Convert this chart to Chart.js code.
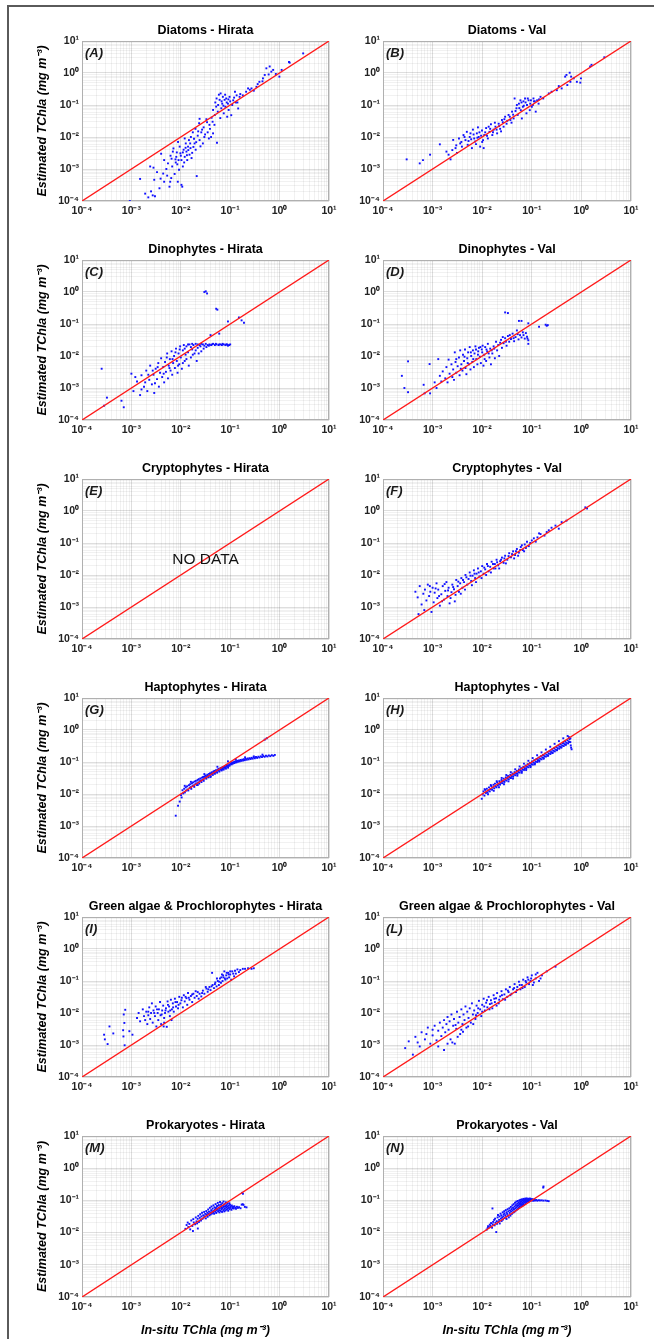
<!DOCTYPE html>
<html><head><meta charset="utf-8">
<script src="https://cdn.jsdelivr.net/npm/chart.js@4/dist/chart.umd.min.js"></script>
<style>
html,body{margin:0;padding:0;background:#fff;}
body{width:654px;height:1339px;position:relative;overflow:hidden;font-family:"Liberation Sans",Arial,sans-serif;}
#frame{position:absolute;left:7px;top:5px;width:700px;height:1400px;border-top:2px solid #5a5a5a;border-left:2px solid #5a5a5a;}
canvas{position:absolute;}
</style></head><body>
<div id="frame"></div>
<script>
// ---- axis ticks ----
const decades = [1e-4, 1e-3, 1e-2, 1e-1, 1, 10];
const decadeLabels = ['10⁻⁴', '10⁻³', '10⁻²', '10⁻¹', '10⁰', '10¹'];
const minorSteps = [2, 3, 4, 5, 6, 7, 8, 9];
const oneToOne = [[1e-4, 1e-4], [10, 10]];

// ---- panel titles / letters ----
const panelTitles = ['Diatoms - Hirata', 'Diatoms - Val', 'Dinophytes - Hirata', 'Dinophytes - Val',
  'Cryptophytes - Hirata', 'Cryptophytes - Val', 'Haptophytes - Hirata', 'Haptophytes - Val',
  'Green algae & Prochlorophytes - Hirata', 'Green algae & Prochlorophytes - Val',
  'Prokaryotes - Hirata', 'Prokaryotes - Val'];
const panelLetters = ['(A)', '(B)', '(C)', '(D)', '(E)', '(F)', '(G)', '(H)', '(I)', '(L)', '(M)', '(N)'];

// ---- data: [in-situ, estimated] (mg m-3) ----
const diatomsHirata = [[9.3e-4,1.0e-4],[1.5e-3,4.9e-4],[1.9e-3,1.7e-4],[2.2e-3,1.3e-4],[2.5e-3,2.0e-4],[2.7e-3,1.5e-4],[2.8e-3,1.1e-3],[2.9e-3,4.6e-4],[3.0e-3,1.4e-4],[3.7e-3,2.5e-4],[3.9e-3,5e-4],[4.4e-3,7.2e-4],[4.6e-3,4.0e-4],[5.1e-3,1.0e-3],[5.5e-3,1.5e-3],[5.9e-3,2.8e-4],[6.1e-3,4e-4],[6.5e-3,2.1e-3],[6.7e-3,1.2e-3],[6.9e-3,3.5e-3],[7.5e-3,7e-4],[7.9e-3,1.6e-3],[8.1e-3,2.4e-3],[8.5e-3,1.4e-3],[8.7e-3,4e-4],[9.2e-3,9.5e-4],[9.5e-3,5e-3],[9.8e-3,3.1e-3],[1.03e-2,1.9e-3],[1.03e-2,3.2e-4],[1.07e-2,2.8e-4],[1.1e-2,1.2e-3],[1.14e-2,4e-3],[1.2e-2,2.4e-3],[1.26e-2,6.3e-3],[1.3e-2,3.5e-3],[1.35e-2,1.9e-3],[1.4e-2,5e-3],[1.46e-2,8e-3],[1.5e-2,2.8e-3],[1.57e-2,4.5e-3],[1.6e-2,1e-2],[1.7e-2,3.2e-3],[1.75e-2,1.4e-2],[1.9e-2,6.3e-3],[1.98e-2,1.8e-2],[2.0e-2,4e-3],[2.1e-2,6e-4],[2.2e-2,1.1e-2],[2.35e-2,2.7e-2],[2.4e-2,8e-3],[2.4e-2,3.7e-2],[2.6e-2,1.4e-2],[2.8e-2,6.3e-3],[2.9e-2,2e-2],[3.0e-2,1e-2],[3.3e-2,3.6e-2],[3.5e-2,1.4e-2],[3.7e-2,9e-3],[3.8e-2,2.4e-2],[4.1e-2,1e-2],[4.4e-2,3e-2],[4.5e-2,1.3e-2],[4.5e-2,7e-2],[4.9e-2,4.9e-2],[5.2e-2,8.9e-2],[5.4e-2,6.6e-3],[5.6e-2,6.2e-2],[5.9e-2,0.21],[6.1e-2,0.145],[6.3e-2,3.9e-2],[6.6e-2,7.9e-2],[6.9e-2,0.11],[7.1e-2,0.18],[7.4e-2,5.5e-2],[7.7e-2,0.145],[8.0e-2,8.8e-2],[8.3e-2,0.16],[8.7e-2,4.3e-2],[9.0e-2,0.11],[9.3e-2,7e-2],[9.7e-2,0.18],[0.105,4.8e-2],[0.11,0.1],[0.115,0.14],[0.125,0.26],[0.13,0.12],[0.135,0.2],[0.145,7.8e-2],[0.155,0.18],[0.21,0.26],[0.23,0.33],[0.27,0.33],[0.3,0.28],[0.34,0.37],[0.39,0.53],[0.46,0.68],[0.5,0.87],[0.54,1.4],[0.63,1.6],[0.68,1.1],[0.74,1.25],[0.84,0.93],[0.99,0.77],[1.1,1.25],[1.55,2.2],[1.6,2.1],[3.0,4.1],
[6.2e-3,2.6e-3],[7.1e-3,4.4e-3],[8.3e-3,3.3e-3],[9.0e-3,1.9e-3],[1.0e-2,2.6e-3],[1.1e-2,3.3e-3],[1.17e-2,1.6e-3],[1.25e-2,4.6e-3],[1.33e-2,2.7e-3],[1.42e-2,3.9e-3],[1.55e-2,6.3e-3],[1.65e-2,2.2e-3],[1.8e-2,4.9e-3],[1.85e-2,8.8e-3],[2.05e-2,6.9e-3],[2.25e-2,1.5e-2],[2.5e-2,5.1e-3],[2.7e-2,1.7e-2],[3.1e-2,1.2e-2],[3.4e-2,2.9e-2],[3.9e-2,1.8e-2],[4.2e-2,4.0e-2],[4.8e-2,2.4e-2],[5.0e-2,0.12],[5.3e-2,0.16],[5.7e-2,0.1],[6.4e-2,0.23],[6.7e-2,0.13],[7.3e-2,9.5e-2],[7.9e-2,0.21],[8.5e-2,0.12],[9.2e-2,0.15],[0.1,0.13],[0.12,0.17],[0.14,0.12],[0.16,0.22],[0.18,0.2],[4.6e-3,1.9e-3],[5.3e-3,6.2e-4],[6.4e-3,5.2e-4],[7.8e-3,2.0e-3],[3.3e-3,8e-4],[2.4e-3,1.2e-3],[4.0e-3,3.0e-3],[8.8e-3,7e-3],[1.2e-2,9e-3],[0.6,0.9],[0.45,0.55],[0.36,0.45],[0.25,0.3]];

const diatomsVal = [[3.0e-4,2.0e-3],[5.5e-4,1.5e-3],[6.4e-4,1.9e-3],[8.9e-4,2.8e-3],[1.4e-3,5.9e-3],[1.9e-3,3.5e-3],[2.1e-3,2.8e-3],[2.3e-3,2.0e-3],[2.6e-3,8.1e-3],[2.9e-3,4.5e-3],[3.1e-3,3.2e-3],[3.4e-3,9e-3],[3.6e-3,6.3e-3],[3.9e-3,5e-3],[4.2e-3,1.15e-2],[4.6e-3,8e-3],[4.9e-3,1.45e-2],[5.1e-3,5.7e-3],[5.6e-3,1e-2],[5.8e-3,1.3e-2],[6.2e-3,4.5e-3],[6.5e-3,1.7e-2],[6.9e-3,9e-3],[7.2e-3,7.2e-3],[7.8e-3,1.3e-2],[8.2e-3,2.0e-2],[8.5e-3,1e-2],[9.1e-3,5e-3],[9.9e-3,1.6e-2],[1.04e-2,8e-3],[1.07e-2,4.5e-3],[1.1e-2,1.15e-2],[1.2e-2,1.9e-2],[1.3e-2,9e-3],[1.4e-2,1.45e-2],[1.5e-2,2.5e-2],[1.6e-2,1.15e-2],[1.7e-2,1.7e-2],[1.85e-2,2.1e-2],[2.0e-2,1.3e-2],[2.15e-2,2.6e-2],[2.3e-2,1.8e-2],[2.5e-2,3.4e-2],[2.7e-2,2.1e-2],[2.9e-2,4.3e-2],[3.1e-2,2.6e-2],[3.4e-2,4.9e-2],[3.7e-2,3.4e-2],[4.0e-2,6.2e-2],[4.3e-2,3.8e-2],[4.5e-2,0.16],[4.9e-2,7.9e-2],[5.2e-2,4.9e-2],[5.5e-2,0.11],[5.9e-2,0.14],[6.0e-2,6.9e-2],[6.3e-2,3.8e-2],[6.6e-2,8.8e-2],[6.8e-2,0.13],[7.3e-2,0.16],[7.8e-2,5.5e-2],[8.0e-2,0.1],[8.6e-2,0.14],[9.1e-2,6.9e-2],[9.3e-2,0.11],[0.1,8.8e-2],[0.108,0.16],[0.11,0.13],[0.12,6.2e-2],[0.128,0.14],[0.137,0.11],[0.15,0.18],[0.17,0.16],[0.22,0.23],[0.25,0.26],[0.32,0.29],[0.35,0.39],[0.4,0.33],[0.47,0.77],[0.5,0.87],[0.52,0.42],[0.58,1.02],[0.6,0.53],[0.62,0.77],[0.7,0.68],[0.81,0.53],[0.95,0.5],[0.98,0.68],[1.5,1.6],[1.6,1.8],[2.9,3.1],
[5.3e-3,7.5e-3],[6.0e-3,8.5e-3],[6.7e-3,1.2e-2],[7.5e-3,6e-3],[8.0e-3,9.5e-3],[8.8e-3,1.4e-2],[9.5e-3,1.1e-2],[1.0e-2,7e-3],[1.15e-2,1.4e-2],[1.25e-2,1.1e-2],[1.35e-2,2.1e-2],[1.45e-2,1.8e-2],[1.65e-2,1.4e-2],[1.8e-2,2.8e-2],[1.95e-2,1.7e-2],[2.2e-2,2.2e-2],[2.4e-2,1.5e-2],[2.6e-2,2.9e-2],[2.8e-2,3.6e-2],[3.2e-2,3.2e-2],[3.6e-2,4.3e-2],[3.9e-2,2.8e-2],[4.2e-2,5.0e-2],[4.7e-2,6.5e-2],[5.0e-2,0.1],[5.6e-2,8.0e-2],[6.2e-2,0.12],[6.9e-2,9.5e-2],[7.5e-2,0.12],[8.3e-2,0.16],[9.6e-2,0.14],[0.105,0.1],[0.115,0.13],[0.14,0.15],[3.8e-3,7e-3],[4.4e-3,1.0e-2],[3.0e-3,5.5e-3],[2.5e-3,3.9e-3]];

const dinoHirata = [[2.5e-4,4e-3],[2.8e-4,2.8e-4],[3.2e-4,5e-4],[6.3e-4,4e-4],[7e-4,2.5e-4],[1e-3,2.8e-3],[1.1e-3,8e-4],[1.3e-3,1.6e-3],[1.5e-3,6e-4],[1.6e-3,2.5e-3],[1.8e-3,1.1e-3],[2.0e-3,3.5e-3],[2.1e-3,8e-4],[2.3e-3,1.8e-3],[2.4e-3,5e-3],[2.6e-3,1.3e-3],[2.8e-3,2.6e-3],[2.9e-3,7e-4],[3.1e-3,4e-3],[3.3e-3,1.9e-3],[3.5e-3,6e-3],[3.6e-3,1.1e-3],[3.8e-3,3e-3],[4.0e-3,8.5e-3],[4.2e-3,2.2e-3],[4.4e-3,4.5e-3],[4.6e-3,1.5e-3],[4.8e-3,6.5e-3],[5.0e-3,3.2e-3],[5.3e-3,1.2e-2],[5.5e-3,2.0e-3],[5.7e-3,5.0e-3],[6.0e-3,8e-3],[6.2e-3,3.5e-3],[6.5e-3,1.4e-2],[6.7e-3,2.6e-3],[7.0e-3,6e-3],[7.3e-3,1.0e-2],[7.6e-3,4.2e-3],[8.0e-3,1.7e-2],[8.3e-3,7e-3],[8.6e-3,3e-3],[9.0e-3,1.2e-2],[9.3e-3,5.5e-3],[9.7e-3,2.0e-2],[1.0e-2,9e-3],[1.05e-2,4e-3],[1.1e-2,1.5e-2],[1.15e-2,2.2e-2],[1.2e-2,7e-3],[1.25e-2,1.1e-2],[1.3e-2,2.0e-2],[1.4e-2,1.3e-2],[1.45e-2,5e-3],[1.5e-2,2.3e-2],[1.6e-2,9e-3],[1.7e-2,1.6e-2],[1.8e-2,2.2e-2],[1.9e-2,1.2e-2],[2.0e-2,2.4e-2],[2.1e-2,7e-3],[2.2e-2,1.8e-2],[2.4e-2,2.2e-2],[2.6e-2,1.4e-2],[2.8e-2,2.3e-2],[3.0e-2,2.1e-2],[3.2e-2,2.4e-2],[3.5e-2,2.2e-2],[3.8e-2,2.3e-2],[4.1e-2,2.2e-2],[4.5e-2,2.4e-2],[4.9e-2,2.2e-2],[5.3e-2,2.3e-2],[5.8e-2,2.2e-2],[6.3e-2,2.3e-2],[6.8e-2,2.2e-2],[7.4e-2,2.3e-2],[8.0e-2,2.2e-2],[8.7e-2,2.3e-2],[9.5e-2,2.2e-2],[0.1,2.3e-2],[3.0e-2,1.0],[3.4e-2,0.9],[3.2e-2,1.05],[5.2e-2,0.3],[5.5e-2,0.28],[9.0e-2,0.12],[0.15,0.16],[0.17,0.13],[0.19,0.11],[4.0e-2,4.5e-2],[6.0e-2,5e-2],
[2.2e-3,2.6e-3],[3.0e-3,1.4e-3],[3.4e-3,4.5e-3],[4.5e-3,2.8e-3],[5.2e-3,9e-3],[5.9e-3,4.2e-3],[6.8e-3,8e-3],[7.8e-3,1.3e-2],[8.8e-3,5e-3],[9.5e-3,1.6e-2],[1.1e-2,6e-3],[1.2e-2,1.7e-2],[1.3e-2,8e-3],[1.6e-2,1.9e-2],[1.75e-2,1.1e-2],[2.0e-2,1.5e-2],[2.3e-2,1.2e-2],[2.5e-2,2.0e-2],[2.9e-2,1.7e-2],[3.3e-2,1.9e-2],[1.4e-2,2.3e-2],[1.7e-2,2.4e-2],[2.2e-2,2.3e-2],[2.6e-2,2.4e-2],[3.7e-2,2.1e-2],[4.3e-2,2.3e-2],[5.1e-2,2.4e-2],[6.0e-2,2.3e-2],[7.0e-2,2.4e-2],[8.3e-2,2.3e-2],[9.0e-2,2.1e-2],[1.6e-3,9e-4],[1.2e-3,2.2e-3],[1.9e-3,1.5e-3],[2.7e-3,3.5e-3]];

const dinoVal = [[2.4e-4,2.4e-3],[2.7e-4,1.0e-3],[3.2e-4,7.4e-4],[3.2e-4,6.8e-3],[6.6e-4,1.26e-3],[6.9e-4,6.8e-4],[8.7e-4,5.6e-3],[8.9e-4,6.8e-4],[1.1e-3,1.5e-3],[1.2e-3,1.0e-3],[1.3e-3,8e-3],[1.4e-3,2.4e-3],[1.5e-3,1.6e-3],[1.6e-3,3.3e-3],[1.8e-3,2.0e-3],[1.9e-3,4.5e-3],[2.0e-3,1.5e-3],[2.1e-3,7.7e-3],[2.2e-3,2.8e-3],[2.4e-3,5.5e-3],[2.5e-3,2.2e-3],[2.6e-3,3.8e-3],[2.7e-3,1.8e-3],[2.8e-3,1.3e-2],[2.9e-3,6.5e-3],[3.0e-3,3.0e-3],[3.2e-3,4.8e-3],[3.4e-3,9e-3],[3.5e-3,2.5e-3],[3.6e-3,1.5e-2],[3.8e-3,5.5e-3],[4.0e-3,3.5e-3],[4.1e-3,1.1e-2],[4.3e-3,7e-3],[4.5e-3,1.6e-2],[4.6e-3,4.2e-3],[4.8e-3,2.7e-3],[5.0e-3,8.5e-3],[5.2e-3,1.3e-2],[5.4e-3,5.5e-3],[5.6e-3,1.9e-2],[5.8e-3,3.8e-3],[6.0e-3,1.0e-2],[6.3e-3,6.5e-3],[6.5e-3,1.5e-2],[6.8e-3,4.5e-3],[7.0e-3,1.2e-2],[7.3e-3,2.0e-2],[7.6e-3,8e-3],[8.0e-3,5.5e-3],[8.3e-3,1.4e-2],[8.6e-3,1.8e-2],[9.0e-3,9.5e-3],[9.4e-3,6e-3],[9.8e-3,1.6e-2],[1.02e-2,2.1e-2],[1.06e-2,5e-3],[1.1e-2,1.1e-2],[1.15e-2,1.9e-2],[1.2e-2,7e-3],[1.26e-2,1.4e-2],[1.3e-2,2.4e-2],[1.4e-2,9e-3],[1.45e-2,1.7e-2],[1.5e-2,5.5e-3],[1.6e-2,1.2e-2],[1.7e-2,2.0e-2],[1.8e-2,8.5e-3],[1.9e-2,2.8e-2],[2.0e-2,1.5e-2],[2.1e-2,2.2e-2],[2.2e-2,1.0e-2],[2.4e-2,3.2e-2],[2.5e-2,1.8e-2],[2.7e-2,2.5e-2],[2.9e-2,3.6e-2],[3.1e-2,2.1e-2],[3.3e-2,4.2e-2],[3.5e-2,2.8e-2],[3.8e-2,3.4e-2],[4.1e-2,5e-2],[4.4e-2,2.9e-2],[4.7e-2,3.9e-2],[5.0e-2,6.3e-2],[5.4e-2,3.3e-2],[5.8e-2,4.5e-2],[6.2e-2,3.8e-2],[6.6e-2,5.5e-2],[7.2e-2,3.5e-2],[8.0e-2,4.0e-2],[8.5e-2,2.4e-2],[8.5e-2,3.1e-2],[2.9e-2,0.23],[3.3e-2,0.22],[5.5e-2,0.125],[6.2e-2,0.125],[8.5e-2,0.105],[0.19,9.5e-2],[0.2,8.8e-2],[0.21,9.2e-2],[0.14,8.2e-2],
[3.0e-3,8e-3],[3.7e-3,4e-3],[4.4e-3,9.5e-3],[5.1e-3,6e-3],[5.9e-3,1.3e-2],[6.6e-3,8e-3],[7.5e-3,1.6e-2],[8.2e-3,1.1e-2],[9.2e-3,1.9e-2],[1.0e-2,1.3e-2],[1.12e-2,8e-3],[1.22e-2,1.6e-2],[1.35e-2,1.2e-2],[1.55e-2,1.5e-2],[1.75e-2,1.7e-2],[2.3e-2,2.6e-2],[2.6e-2,3.9e-2],[3.0e-2,2.8e-2],[3.6e-2,4.5e-2],[4.3e-2,3.6e-2],[5.2e-2,4.8e-2],[6.8e-2,4.5e-2],[7.6e-2,5.2e-2],[8.2e-2,3.5e-2]];

const cryptoHirata = [];

const cryptoVal = [[4.5e-4,3e-3],[5e-4,2e-3],[5.5e-4,4.5e-3],[6e-4,1.2e-3],[6.5e-4,2.6e-3],[7e-4,3.5e-3],[7.5e-4,1.6e-3],[8e-4,5e-3],[8.5e-4,2.2e-3],[9e-4,3e-3],[9.5e-4,7e-4],[1.0e-3,4e-3],[1.05e-3,1.4e-3],[1.1e-3,2.8e-3],[1.2e-3,5.5e-3],[1.25e-3,1.9e-3],[1.3e-3,3.5e-3],[1.4e-3,1.1e-3],[1.5e-3,2.5e-3],[1.6e-3,4.5e-3],[1.7e-3,1.7e-3],[1.8e-3,3.2e-3],[1.9e-3,6e-3],[2.0e-3,2.2e-3],[2.1e-3,4e-3],[2.2e-3,1.3e-3],[2.4e-3,2.9e-3],[2.5e-3,5e-3],[2.7e-3,3.6e-3],[2.9e-3,2.4e-3],[3.0e-3,7e-3],[3.2e-3,4.5e-3],[3.4e-3,3.0e-3],[3.6e-3,5.5e-3],[3.8e-3,8e-3],[4.0e-3,4e-3],[4.3e-3,6e-3],[4.6e-3,1e-2],[5.0e-3,5e-3],[5.3e-3,7.5e-3],[5.6e-3,1.2e-2],[6.0e-3,6.5e-3],[6.4e-3,9.5e-3],[6.8e-3,1.4e-2],[7.2e-3,8e-3],[7.7e-3,1.1e-2],[8.2e-3,1.6e-2],[8.8e-3,9e-3],[9.4e-3,1.3e-2],[1.0e-2,1.9e-2],[1.07e-2,1.1e-2],[1.15e-2,1.5e-2],[1.25e-2,2.2e-2],[1.35e-2,1.3e-2],[1.45e-2,1.8e-2],[1.55e-2,2.6e-2],[1.7e-2,1.6e-2],[1.8e-2,2.2e-2],[1.95e-2,3.0e-2],[2.1e-2,2.0e-2],[2.3e-2,2.7e-2],[2.5e-2,3.5e-2],[2.7e-2,2.4e-2],[2.9e-2,4.0e-2],[3.2e-2,3.0e-2],[3.5e-2,4.8e-2],[3.8e-2,3.6e-2],[4.2e-2,5.5e-2],[4.6e-2,4.2e-2],[5.0e-2,6.5e-2],[5.5e-2,5e-2],[6.0e-2,7.5e-2],[6.6e-2,6e-2],[7.2e-2,9e-2],[8e-2,0.11],[8.7e-2,8e-2],[0.1,0.12],[0.11,0.14],[0.13,0.15],[0.15,0.19],[0.2,0.22],[0.25,0.3],[0.3,0.35],[0.35,0.28],[0.4,0.45],[0.5,0.5],[1.2,1.3],[1.3,1.2],
[5.2e-4,6e-4],[6.8e-4,8e-4],[8.8e-4,4.5e-3],[1.15e-3,3.8e-3],[1.35e-3,2.2e-3],[1.55e-3,1.5e-3],[1.75e-3,5.2e-3],[2.05e-3,3.3e-3],[2.3e-3,1.9e-3],[2.6e-3,4.2e-3],[2.8e-3,1.5e-3],[3.3e-3,6.2e-3],[3.7e-3,2.6e-3],[4.1e-3,7e-3],[4.5e-3,3.5e-3],[4.8e-3,8.5e-3],[5.8e-3,9.5e-3],[6.2e-3,4.8e-3],[7.0e-3,1.1e-2],[7.5e-3,6e-3],[8.5e-3,1.2e-2],[9.7e-3,8e-3],[1.1e-2,1.7e-2],[1.2e-2,1.0e-2],[1.3e-2,1.9e-2],[1.5e-2,1.2e-2],[1.65e-2,2.2e-2],[1.85e-2,1.6e-2],[2.0e-2,2.5e-2],[2.2e-2,1.6e-2],[2.4e-2,3.0e-2],[2.8e-2,3.3e-2],[3.0e-2,2.3e-2],[3.4e-2,3.9e-2],[4.0e-2,4.5e-2],[4.4e-2,3.3e-2],[4.8e-2,5.5e-2],[5.3e-2,4.0e-2],[5.8e-2,6.0e-2],[6.3e-2,8.5e-2],[7.0e-2,5.5e-2],[7.6e-2,7e-2],[9.3e-2,0.1],[0.12,0.11],[0.14,0.2],[0.18,0.17],[0.22,0.25]];

const haptoHirata = [[7.9e-3,2.1e-3],[8.8e-3,4.3e-3],[9.5e-3,5.8e-3],[1.01e-2,9.2e-3],[1.04e-2,7.8e-3],
[1.08e-2,1.31e-2],[1.12e-2,1.04e-2],[1.17e-2,1.46e-2],[1.21e-2,1.12e-2],[1.26e-2,1.62e-2],[1.29e-2,1.28e-2],[1.34e-2,1.74e-2],[1.37e-2,1.38e-2],[1.42e-2,1.29e-2],[1.46e-2,1.88e-2],[1.51e-2,1.55e-2],[1.55e-2,2.02e-2],[1.59e-2,1.64e-2],[1.63e-2,1.45e-2],[1.68e-2,2.16e-2],[1.73e-2,1.78e-2],[1.77e-2,2.31e-2],[1.82e-2,1.86e-2],[1.87e-2,1.67e-2],[1.91e-2,2.46e-2],[1.97e-2,2.03e-2],[2.02e-2,2.58e-2],[2.07e-2,2.15e-2],[2.12e-2,1.91e-2],[2.19e-2,2.74e-2],[2.25e-2,2.31e-2],[2.31e-2,2.91e-2],[2.36e-2,2.12e-2],[2.43e-2,2.52e-2],[2.49e-2,3.07e-2],[2.56e-2,2.66e-2],[2.62e-2,2.36e-2],[2.69e-2,3.24e-2],[2.76e-2,2.81e-2],[2.83e-2,3.42e-2],[2.91e-2,2.58e-2],[2.98e-2,3.05e-2],
[3.05e-2,3.58e-2],[3.13e-2,3.24e-2],[3.21e-2,3.78e-2],[3.29e-2,3.01e-2],[3.37e-2,3.49e-2],[3.46e-2,4.02e-2],[3.55e-2,3.68e-2],[3.64e-2,3.31e-2],[3.73e-2,4.25e-2],[3.82e-2,3.89e-2],[3.92e-2,4.46e-2],[4.02e-2,3.62e-2],[4.12e-2,4.18e-2],[4.23e-2,4.76e-2],[4.34e-2,4.39e-2],[4.45e-2,3.96e-2],[4.56e-2,5.01e-2],[4.68e-2,4.61e-2],[4.79e-2,5.27e-2],[4.91e-2,4.29e-2],[5.04e-2,4.88e-2],[5.17e-2,5.55e-2],[5.31e-2,5.12e-2],[5.44e-2,4.63e-2],[5.59e-2,5.84e-2],[5.73e-2,5.41e-2],[5.88e-2,6.11e-2],[6.03e-2,5.03e-2],[6.19e-2,5.72e-2],[6.35e-2,6.44e-2],[6.51e-2,5.98e-2],[6.68e-2,5.43e-2],[6.85e-2,6.72e-2],[7.03e-2,6.26e-2],[7.21e-2,7.01e-2],[7.4e-2,5.82e-2],[7.59e-2,6.55e-2],[7.78e-2,7.38e-2],[7.99e-2,6.88e-2],[8.19e-2,6.21e-2],[8.41e-2,7.68e-2],[8.62e-2,7.14e-2],[8.85e-2,7.95e-2],[9.08e-2,6.64e-2],[9.31e-2,7.51e-2],[9.55e-2,8.32e-2],[9.8e-2,7.79e-2],
[0.101,8.67e-2],[0.104,9.21e-2],[0.107,8.42e-2],[0.11,9.58e-2],[0.113,8.93e-2],[0.117,9.91e-2],[0.12,9.24e-2],[0.124,0.1027],[0.128,0.0958],[0.132,0.1063],[0.136,0.0987],[0.141,0.1092],[0.146,0.1021],[0.151,0.1124],[0.157,0.1052],[0.163,0.1158],[0.169,0.1084],[0.176,0.1187],[0.183,0.1112],[0.19,0.1223],[0.198,0.1141],[0.207,0.1254],[0.216,0.1178],[0.226,0.1289],[0.236,0.1207],[0.247,0.1318],[0.259,0.1241],[0.271,0.1352],[0.285,0.1272],[0.3,0.1391],[0.316,0.1309],[0.333,0.1428],[0.351,0.1342],[0.371,0.1463],[0.392,0.1381],[0.415,0.1502],[0.44,0.1417],[0.467,0.1538],[0.497,0.1452],[0.53,0.1571],[0.566,0.1489],[0.605,0.1602],[0.648,0.1521],[0.695,0.1634],[0.748,0.1558],[0.8,0.1663],[0.55,0.55],[0.5,0.5],
[1.2e-2,1.8e-2],[1.6e-2,2.4e-2],[2.2e-2,1.9e-2],[3.0e-2,4.2e-2],[4.0e-2,3.4e-2],[5.5e-2,7.1e-2],[7.0e-2,5.8e-2],[9.0e-2,0.105],[0.13,0.12],[0.2,0.14],[0.3,0.15],[0.45,0.17]];

const haptoVal = [[9.8e-3,7.1e-3],[1.02e-2,9.7e-3],[1.06e-2,1.21e-2],[1.11e-2,8.9e-3],[1.15e-2,1.34e-2],[1.19e-2,1.08e-2],[1.24e-2,1.46e-2],[1.28e-2,1.12e-2],[1.33e-2,1.28e-2],[1.37e-2,1.61e-2],[1.42e-2,1.21e-2],[1.47e-2,1.42e-2],[1.52e-2,1.78e-2],[1.58e-2,1.36e-2],[1.63e-2,1.59e-2],[1.69e-2,1.94e-2],[1.75e-2,1.51e-2],[1.81e-2,2.11e-2],[1.87e-2,1.73e-2],[1.94e-2,1.62e-2],[2.0e-2,2.29e-2],[2.07e-2,1.86e-2],[2.14e-2,2.08e-2],[2.22e-2,2.51e-2],[2.29e-2,1.96e-2],[2.37e-2,2.23e-2],[2.45e-2,2.74e-2],[2.54e-2,2.18e-2],[2.62e-2,2.49e-2],[2.71e-2,3.02e-2],[2.81e-2,2.38e-2],[2.9e-2,2.76e-2],[3.0e-2,3.31e-2],[3.1e-2,2.62e-2],[3.21e-2,3.01e-2],[3.32e-2,3.64e-2],[3.44e-2,2.89e-2],[3.55e-2,3.32e-2],[3.68e-2,3.98e-2],[3.8e-2,3.18e-2],[3.93e-2,3.65e-2],[4.07e-2,4.37e-2],[4.21e-2,3.51e-2],[4.35e-2,4.02e-2],[4.5e-2,4.81e-2],[4.66e-2,3.86e-2],[4.82e-2,4.41e-2],[4.98e-2,5.29e-2],[5.15e-2,4.25e-2],[5.33e-2,4.87e-2],[5.51e-2,5.83e-2],[5.7e-2,4.67e-2],[5.9e-2,5.36e-2],[6.1e-2,6.41e-2],[6.31e-2,5.14e-2],[6.53e-2,5.89e-2],[6.75e-2,7.06e-2],[6.98e-2,5.66e-2],[7.22e-2,6.48e-2],[7.47e-2,7.77e-2],[7.73e-2,6.22e-2],[8.0e-2,7.14e-2],[8.27e-2,8.54e-2],[8.55e-2,6.84e-2],[8.85e-2,7.85e-2],[9.15e-2,9.39e-2],[9.47e-2,7.53e-2],[9.8e-2,8.64e-2],[0.101,0.1032],[0.105,0.0828],[0.108,0.0951],[0.112,0.1136],[0.116,0.0911],[0.12,0.1045],[0.124,0.1249],[0.128,0.1002],[0.133,0.1151],[0.137,0.1374],[0.142,0.1103],[0.147,0.1266],[0.152,0.1512],[0.157,0.1213],[0.163,0.1392],[0.168,0.1663],[0.174,0.1334],[0.18,0.1531],[0.186,0.1829],[0.193,0.1468],[0.2,0.1685],[0.207,0.2012],[0.214,0.1615],[0.221,0.1853],[0.229,0.2213],[0.237,0.1776],[0.245,0.2038],[0.254,0.2434],[0.263,0.1954],[0.272,0.2242],[0.281,0.2678],[0.291,0.2149],[0.301,0.2466],[0.312,0.2945],[0.323,0.2364],[0.334,0.2713],[0.346,0.324],[0.358,0.26],[0.37,0.2984],[0.383,0.3564],[0.397,0.286],[0.41,0.3282],[0.425,0.392],[0.44,0.3146],[0.455,0.361],[0.471,0.4312],[0.487,0.3461],[0.504,0.3971],[0.522,0.4743],[0.54,0.3807],[0.559,0.4368],[0.578,0.5218],[0.598,0.4188],[0.61,0.3305],[0.62,0.2812],[0.635,0.2493],[0.6,0.55],[0.56,0.6],
[1.12e-2,1.42e-2],[1.31e-2,9.8e-3],[1.49e-2,1.91e-2],[1.71e-2,1.26e-2],[1.96e-2,2.51e-2],[2.18e-2,1.63e-2],[2.47e-2,3.18e-2],[2.75e-2,2.01e-2],[3.06e-2,3.92e-2],[3.39e-2,2.48e-2],[3.77e-2,4.81e-2],[4.18e-2,3.05e-2],[4.63e-2,5.92e-2],[5.12e-2,3.74e-2],[5.67e-2,7.25e-2],[6.28e-2,4.59e-2],[6.95e-2,8.89e-2],[7.69e-2,5.62e-2],[8.52e-2,0.1091],[9.43e-2,6.89e-2],[0.104,0.133],[0.115,0.084],[0.128,0.163],[0.141,0.103],[0.157,0.2],[0.173,0.126],[0.192,0.245],[0.212,0.155],[0.235,0.3],[0.26,0.19],[0.288,0.37],[0.318,0.232],[0.352,0.45],[0.39,0.285],[0.431,0.55],[0.477,0.35],[0.528,0.65],[0.57,0.42]];

const greenHirata = [[2.8e-4,2.1e-3],[2.9e-4,1.5e-3],[3.3e-4,1.07e-3],[3.6e-4,3.8e-3],[4.3e-4,2.3e-3],[6.8e-4,2.9e-3],[6.9e-4,1.85e-3],[7.2e-4,4.9e-3],[7.5e-4,1.26e-2],[7.0e-4,9e-3],[7.3e-4,9.8e-4],[9.1e-4,2.7e-3],[1.05e-3,2.1e-3],[1.3e-3,7e-3],[1.4e-3,1.0e-2],[1.5e-3,5.5e-3],[1.7e-3,1.3e-2],[1.8e-3,8e-3],[1.9e-3,6e-3],[2.0e-3,1.1e-2],[2.1e-3,4.5e-3],[2.2e-3,8.5e-3],[2.3e-3,1.5e-2],[2.4e-3,6.5e-3],[2.5e-3,1.0e-2],[2.6e-3,2.0e-2],[2.7e-3,5e-3],[2.8e-3,1.2e-2],[3.0e-3,8e-3],[3.1e-3,1.6e-2],[3.2e-3,3.8e-3],[3.4e-3,1.0e-2],[3.5e-3,6e-3],[3.6e-3,1.3e-2],[3.8e-3,2.2e-2],[3.9e-3,8.5e-3],[4.0e-3,4.5e-3],[4.2e-3,1.2e-2],[4.4e-3,1.7e-2],[4.5e-3,3.8e-3],[4.6e-3,7e-3],[4.8e-3,1.0e-2],[5.0e-3,1.4e-2],[5.2e-3,3.7e-3],[5.4e-3,2.3e-2],[5.6e-3,1.1e-2],[5.8e-3,1.6e-2],[6.0e-3,8e-3],[6.3e-3,2.6e-2],[6.6e-3,1.3e-2],[6.9e-3,2.0e-2],[7.2e-3,1.1e-2],[7.6e-3,2.8e-2],[8.0e-3,1.6e-2],[8.4e-3,2.2e-2],[8.8e-3,1.4e-2],[9.3e-3,3.2e-2],[9.8e-3,2.0e-2],[1.03e-2,2.5e-2],[1.1e-2,1.5e-2],[1.15e-2,3.6e-2],[1.2e-2,2.3e-2],[1.3e-2,2.9e-2],[1.35e-2,1.8e-2],[1.4e-2,4.2e-2],[1.5e-2,2.6e-2],[1.6e-2,3.4e-2],[1.7e-2,2.2e-2],[1.8e-2,4.0e-2],[1.9e-2,3.0e-2],[2.0e-2,4.8e-2],[2.1e-2,3.4e-2],[2.3e-2,2.8e-2],[2.4e-2,4.0e-2],[2.6e-2,3.3e-2],[2.8e-2,5.0e-2],[3.0e-2,4.0e-2],[3.3e-2,5.8e-2],[3.5e-2,4.6e-2],[3.8e-2,6.5e-2],[4.0e-2,5.2e-2],[4.3e-2,0.18],[4.4e-2,7.5e-2],[4.7e-2,6.0e-2],[5.0e-2,9e-2],[5.3e-2,6.8e-2],[5.6e-2,0.1],[5.9e-2,7.5e-2],[6.2e-2,0.12],[6.5e-2,8.8e-2],[6.8e-2,0.16],[7.0e-2,0.1],[7.3e-2,0.13],[7.6e-2,0.2],[8.0e-2,0.11],[8.3e-2,0.15],[8.7e-2,0.12],[9.1e-2,0.18],[9.5e-2,0.13],[0.1,0.16],[0.105,0.11],[0.11,0.2],[0.12,0.14],[0.13,0.17],[0.14,0.23],[0.15,0.19],[0.2,0.24],[0.23,0.25],[0.27,0.24],[0.3,0.25],
[2.2e-3,1.1e-2],[2.9e-3,1.0e-2],[3.3e-3,1.3e-2],[4.1e-3,9e-3],[4.9e-3,1.2e-2],[5.5e-3,1.8e-2],[6.1e-3,1.2e-2],[7.0e-3,1.5e-2],[7.8e-3,2.2e-2],[9.0e-3,1.8e-2],[1.05e-2,3.0e-2],[1.25e-2,3.2e-2],[1.45e-2,3.0e-2],[1.7e-2,3.8e-2],[2.2e-2,4.5e-2],[2.7e-2,4.2e-2],[3.2e-2,6.5e-2],[3.6e-2,5.5e-2],[4.2e-2,6.8e-2],[4.9e-2,8.0e-2],[5.4e-2,0.12],[6.0e-2,9.5e-2],[6.6e-2,0.13],[7.2e-2,0.15],[7.8e-2,0.12],[8.5e-2,0.18],[9.3e-2,0.16],[0.1,0.2],[0.115,0.17],[0.125,0.21],[0.16,0.22],[0.18,0.24],[6.5e-3,6e-3],[4.6e-3,5e-3]];

const greenVal = [[2.8e-4,8e-4],[3.3e-4,1.3e-3],[4e-4,5e-4],[4.5e-4,1.8e-3],[5.5e-4,9e-4],[6e-4,2.5e-3],[7e-4,1.5e-3],[8e-4,3.5e-3],[9e-4,1.1e-3],[1e-3,2e-3],[1.1e-3,4e-3],[1.2e-3,1.4e-3],[1.3e-3,2.8e-3],[1.4e-3,5e-3],[1.5e-3,1.9e-3],[1.6e-3,3.5e-3],[1.7e-3,6e-3],[1.8e-3,2.5e-3],[1.9e-3,4.5e-3],[2.0e-3,7.5e-3],[2.1e-3,3e-3],[2.2e-3,5.5e-3],[2.3e-3,1.5e-3],[2.4e-3,9e-3],[2.6e-3,4e-3],[2.7e-3,6.5e-3],[2.8e-3,1.1e-3],[3.0e-3,3.2e-3],[3.1e-3,1.1e-2],[3.3e-3,5e-3],[3.5e-3,7.5e-3],[3.6e-3,2.2e-3],[3.8e-3,1.3e-2],[4.0e-3,4.5e-3],[4.2e-3,9e-3],[4.4e-3,6e-3],[4.6e-3,1.6e-2],[4.8e-3,3.5e-3],[5.0e-3,1.1e-2],[5.3e-3,7e-3],[5.6e-3,1.4e-2],[5.9e-3,5e-3],[6.2e-3,2e-2],[6.5e-3,9e-3],[6.9e-3,1.2e-2],[7.3e-3,6.5e-3],[7.7e-3,1.7e-2],[8.1e-3,1.0e-2],[8.6e-3,2.4e-2],[9.1e-3,1.3e-2],[9.6e-3,8e-3],[1.0e-2,1.8e-2],[1.07e-2,2.8e-2],[1.13e-2,1.2e-2],[1.2e-2,2.1e-2],[1.27e-2,1.5e-2],[1.35e-2,3.2e-2],[1.43e-2,1.9e-2],[1.5e-2,2.5e-2],[1.6e-2,1.4e-2],[1.7e-2,3.6e-2],[1.8e-2,2.2e-2],[1.9e-2,2.9e-2],[2.0e-2,4.2e-2],[2.15e-2,2.0e-2],[2.3e-2,3.3e-2],[2.45e-2,4.8e-2],[2.6e-2,2.7e-2],[2.8e-2,3.8e-2],[3.0e-2,5.5e-2],[3.2e-2,3.2e-2],[3.4e-2,4.5e-2],[3.6e-2,6.5e-2],[3.9e-2,4.0e-2],[4.2e-2,5.5e-2],[4.5e-2,8e-2],[4.8e-2,4.5e-2],[5.1e-2,6.5e-2],[5.5e-2,9.5e-2],[5.9e-2,5.5e-2],[6.3e-2,7.5e-2],[6.7e-2,0.11],[7.2e-2,6.5e-2],[7.7e-2,9e-2],[8.2e-2,0.13],[8.8e-2,8e-2],[9.4e-2,0.1],[0.1,0.15],[0.11,9e-2],[0.12,0.12],[0.13,0.18],[0.14,0.1],[0.16,0.15],[0.2,0.2],[0.3,0.28],
[1.3e-3,9e-4],[1.7e-3,7e-4],[2.5e-3,1.2e-3],[3.2e-3,1.8e-3],[4.1e-3,2.6e-3],[5.2e-3,3.8e-3],[6.6e-3,4.5e-3],[7.5e-3,8.5e-3],[8.3e-3,1.4e-2],[1.0e-2,1.1e-2],[1.1e-2,1.6e-2],[1.25e-2,2.5e-2],[1.4e-2,1.3e-2],[1.55e-2,2.0e-2],[1.75e-2,2.8e-2],[1.95e-2,1.7e-2],[2.2e-2,2.6e-2],[2.5e-2,3.6e-2],[2.9e-2,2.6e-2],[3.3e-2,5.0e-2],[3.7e-2,3.6e-2],[4.4e-2,6.0e-2],[5.0e-2,5.2e-2],[5.7e-2,7.5e-2],[6.5e-2,6.0e-2],[7.5e-2,0.1],[8.5e-2,0.11],[9.7e-2,0.12],[0.105,7.5e-2],[0.12,0.16],[0.15,0.12],[3.8e-3,3.0e-3],[2.9e-3,4.2e-3],[2.0e-3,1.1e-3],[1.0e-3,3e-3],[7.5e-4,2.2e-3],[5e-4,1.2e-3]];

const prokHirata = [[1.24e-2,1.31e-2],[1.31e-2,1.72e-2],[1.42e-2,1.49e-2],[1.38e-2,2.05e-2],[1.55e-2,1.26e-2],[1.49e-2,1.86e-2],[1.63e-2,2.38e-2],[1.71e-2,1.61e-2],[1.76e-2,1.12e-2],[1.83e-2,2.07e-2],[1.79e-2,2.62e-2],[1.95e-2,1.81e-2],[2.01e-2,2.96e-2],[2.08e-2,2.24e-2],[2.14e-2,1.93e-2],[2.26e-2,3.31e-2],[2.19e-2,2.68e-2],[2.33e-2,2.14e-2],[2.42e-2,2.87e-2],[2.47e-2,3.72e-2],[2.56e-2,2.36e-2],[2.61e-2,3.19e-2],[2.69e-2,4.12e-2],[2.75e-2,2.67e-2],[2.84e-2,3.45e-2],[2.91e-2,2.94e-2],[2.97e-2,4.38e-2],[3.05e-2,3.22e-2],[3.12e-2,3.81e-2],[3.21e-2,2.76e-2],[3.28e-2,4.67e-2],[3.36e-2,3.56e-2],[3.44e-2,4.11e-2],[3.49e-2,3.09e-2],[3.58e-2,5.23e-2],[3.66e-2,3.85e-2],[3.72e-2,4.48e-2],[3.79e-2,3.43e-2],[3.88e-2,5.89e-2],[3.96e-2,4.27e-2],[4.01e-2,3.66e-2],[4.12e-2,4.97e-2],[4.18e-2,6.48e-2],[4.27e-2,3.91e-2],[4.33e-2,4.56e-2],[4.41e-2,5.53e-2],[4.52e-2,4.19e-2],[4.58e-2,7.02e-2],[4.66e-2,4.68e-2],[4.72e-2,3.85e-2],[4.81e-2,6.11e-2],[4.93e-2,5.22e-2],[4.99e-2,4.43e-2],[5.07e-2,7.68e-2],[5.15e-2,5.79e-2],[5.22e-2,4.07e-2],[5.34e-2,4.88e-2],[5.41e-2,6.72e-2],[5.53e-2,5.31e-2],[5.61e-2,8.39e-2],[5.69e-2,4.52e-2],[5.77e-2,6.03e-2],[5.88e-2,7.18e-2],[5.96e-2,4.97e-2],[6.07e-2,4.23e-2],[6.14e-2,5.66e-2],[6.22e-2,8.87e-2],[6.33e-2,6.48e-2],[6.41e-2,4.71e-2],[6.52e-2,7.42e-2],[6.63e-2,5.38e-2],[6.71e-2,6.11e-2],[6.84e-2,4.39e-2],[6.92e-2,8.23e-2],[7.03e-2,5.77e-2],[7.12e-2,6.84e-2],[7.25e-2,5.02e-2],[7.33e-2,9.23e-2],[7.46e-2,6.29e-2],[7.58e-2,4.55e-2],[7.67e-2,7.61e-2],[7.79e-2,5.48e-2],[7.91e-2,6.67e-2],[8.03e-2,4.85e-2],[8.15e-2,8.72e-2],[8.28e-2,5.98e-2],[8.42e-2,7.12e-2],[8.56e-2,5.21e-2],[8.68e-2,6.41e-2],[8.81e-2,7.89e-2],[8.97e-2,5.62e-2],[9.12e-2,4.77e-2],[9.28e-2,6.88e-2],[9.41e-2,6.08e-2],[9.57e-2,8.15e-2],[9.73e-2,5.34e-2],[9.91e-2,7.29e-2],[0.101,5.86e-2],[0.103,6.51e-2],[0.106,5.12e-2],[0.108,6.94e-2],[0.111,5.78e-2],[0.114,6.23e-2],[0.118,5.59e-2],[0.121,6.61e-2],[0.126,5.97e-2],[0.131,5.48e-2],[0.137,6.33e-2],[0.143,5.85e-2],[0.151,6.12e-2],[0.162,5.71e-2],[0.171,7.38e-2],[0.179,7.64e-2],[0.186,7.25e-2],[0.198,6.29e-2],[0.214,6.08e-2],[0.175,0.172],[0.181,0.161],[2.21e-2,1.34e-2]];

const prokVal = [[1.23e-2,1.24e-2],[1.31e-2,1.58e-2],[1.29e-2,1.39e-2],[1.42e-2,1.77e-2],[1.39e-2,1.47e-2],[1.51e-2,1.98e-2],[1.47e-2,1.63e-2],[1.58e-2,1.42e-2],[1.61e-2,5.62e-2],[1.66e-2,2.15e-2],[1.63e-2,1.81e-2],[1.74e-2,2.48e-2],[1.78e-2,1.68e-2],[1.85e-2,2.03e-2],[1.82e-2,2.71e-2],[1.92e-2,1.04e-2],[1.96e-2,2.26e-2],[1.99e-2,1.87e-2],
[2.04e-2,2.96e-2],[2.11e-2,2.14e-2],[2.08e-2,3.51e-2],[2.19e-2,2.48e-2],[2.26e-2,1.92e-2],[2.23e-2,3.18e-2],[2.34e-2,3.88e-2],[2.38e-2,2.71e-2],[2.46e-2,2.29e-2],[2.43e-2,3.42e-2],[2.52e-2,2.97e-2],[2.59e-2,4.27e-2],[2.62e-2,2.54e-2],[2.71e-2,3.66e-2],[2.68e-2,3.18e-2],[2.78e-2,4.62e-2],[2.85e-2,2.83e-2],[2.82e-2,3.97e-2],[2.93e-2,3.46e-2],[2.99e-2,5.01e-2],[3.04e-2,3.12e-2],[3.11e-2,4.29e-2],[3.09e-2,2.65e-2],[3.18e-2,3.83e-2],[3.26e-2,5.34e-2],[3.31e-2,3.41e-2],[3.38e-2,4.62e-2],[3.44e-2,2.97e-2],
[3.52e-2,5.71e-2],[3.58e-2,4.08e-2],[3.63e-2,4.89e-2],[3.71e-2,3.36e-2],[3.78e-2,6.27e-2],[3.82e-2,4.52e-2],[3.91e-2,5.38e-2],[3.97e-2,3.81e-2],[4.05e-2,7.03e-2],[4.09e-2,4.87e-2],[4.18e-2,5.94e-2],[4.24e-2,4.19e-2],[4.31e-2,7.66e-2],[4.37e-2,5.33e-2],[4.46e-2,4.41e-2],[4.51e-2,6.51e-2],[4.59e-2,8.45e-2],[4.66e-2,5.72e-2],[4.71e-2,4.82e-2],[4.79e-2,7.12e-2],[4.87e-2,9.18e-2],[4.93e-2,6.15e-2],[4.99e-2,5.18e-2],[5.08e-2,7.83e-2],[5.15e-2,6.71e-2],[5.22e-2,9.61e-2],[5.29e-2,5.59e-2],[5.37e-2,8.44e-2],[5.43e-2,7.12e-2],[5.52e-2,6.02e-2],[5.61e-2,9.98e-2],[5.66e-2,7.75e-2],[5.73e-2,6.48e-2],[5.81e-2,8.93e-2],[5.89e-2,0.1041],[5.94e-2,7.28e-2],
[6.03e-2,8.15e-2],[6.11e-2,6.62e-2],[6.18e-2,9.52e-2],[6.27e-2,0.1078],[6.34e-2,7.49e-2],[6.42e-2,8.73e-2],[6.51e-2,6.91e-2],[6.59e-2,0.1022],[6.68e-2,8.11e-2],[6.76e-2,0.1117],[6.84e-2,9.28e-2],[6.95e-2,7.34e-2],[7.02e-2,0.1046],[7.11e-2,8.69e-2],[7.22e-2,9.78e-2],[7.31e-2,0.1132],[7.42e-2,8.06e-2],[7.51e-2,9.47e-2],[7.63e-2,0.1068],[7.72e-2,8.72e-2],[7.84e-2,0.1157],[7.93e-2,9.94e-2],[8.06e-2,9.12e-2],[8.17e-2,0.1083],[8.29e-2,9.63e-2],[8.43e-2,0.1124],[8.56e-2,0.1008],[8.68e-2,9.31e-2],[8.83e-2,0.1091],[8.97e-2,0.1036],[9.12e-2,0.1147],[9.28e-2,9.78e-2],[9.41e-2,0.1063],[9.58e-2,0.1112],[9.73e-2,0.1001],[9.91e-2,0.1076],
[0.101,0.1012],[0.104,0.1095],[0.107,0.0973],[0.111,0.1043],[0.116,0.0992],[0.122,0.1031],[0.129,0.0978],[0.137,0.1014],[0.146,0.0996],[0.158,0.1003],[0.171,0.0985],[0.188,0.0992],[0.204,0.0968],[0.219,0.0947],[0.17,0.25],[0.172,0.27]];

const panelData = [diatomsHirata, diatomsVal, dinoHirata, dinoVal, cryptoHirata, cryptoVal,
  haptoHirata, haptoVal, greenHirata, greenVal, prokHirata, prokVal];

// ---- layout ----
const FONT = '"Liberation Sans", Arial, Helvetica, sans-serif';
const rowTops = [41, 260, 479, 698, 917, 1136];
const PLOT_H = 160;

function isDecade(v) { const l = Math.log10(v); return Math.abs(l - Math.round(l)) < 1e-6; }
const tickValues = [];
decades.forEach((d, i) => { tickValues.push(d); if (i < decades.length - 1) minorSteps.forEach(m => tickValues.push(m * d)); });
function tickLabel(v) {
  const i = decades.findIndex(d => Math.abs(d - v) / d < 1e-6);
  return i >= 0 ? decadeLabels[i] : '';
}
const gridColor = ctx => (ctx.tick && isDecade(ctx.tick.value)) ? 'rgba(0,0,0,0.13)' : 'rgba(0,0,0,0.055)';

const boxPlugin = {
  id: 'boxAndLetter',
  beforeDatasetsDraw(chart) {
    const a = chart.chartArea, c = chart.ctx;
    c.save(); c.strokeStyle = '#b0b0b0'; c.lineWidth = 1;
    c.strokeRect(Math.round(a.left) + 0.5, Math.round(a.top) + 0.5, Math.round(a.right - a.left) - 1, Math.round(a.bottom - a.top) - 1);
    c.restore();
  },
  afterDatasetsDraw(chart, args, opts) {
    const a = chart.chartArea, c = chart.ctx;
    c.save();
    c.fillStyle = '#1a1a1a';
    c.font = 'italic bold 13px ' + FONT;
    c.textBaseline = 'alphabetic'; c.textAlign = 'left';
    c.fillText(opts.letter, a.left + 3, a.top + 16);
    if (opts.noData) {
      c.font = '15.5px ' + FONT;
      c.textAlign = 'center'; c.textBaseline = 'middle';
      c.fillStyle = '#111';
      c.fillText('NO DATA', (a.left + a.right) / 2, (a.top + a.bottom) / 2 + 1);
    }
    c.restore();
  }
};

panelData.forEach((pts, idx) => {
  const col = idx % 2, row = Math.floor(idx / 2);
  const bottomRow = row === rowTops.length - 1;
  const yAxisW = col === 0 ? 62 : 53;
  const canvasLeft = col === 0 ? 20 : 330;
  const plotW = col === 0 ? 247 : 248;
  const rightPad = col === 0 ? 16 : 23;
  const xAxisH = bottomRow ? 45 : 22;
  const topSpace = 28;
  const W = yAxisW + plotW + rightPad;
  const H = topSpace + PLOT_H + xAxisH + (bottomRow ? 1 : 0);
  const cv = document.createElement('canvas');
  cv.width = W; cv.height = H;
  cv.style.left = canvasLeft + 'px';
  cv.style.top = (rowTops[row] - topSpace) + 'px';
  cv.style.width = W + 'px'; cv.style.height = H + 'px';
  document.body.appendChild(cv);

  new Chart(cv, {
    type: 'scatter',
    data: {
      datasets: [
        { type: 'line', data: oneToOne.map(p => ({x: p[0], y: p[1]})), borderColor: '#ff1a1a', borderWidth: 1.4, pointRadius: 0, fill: false },
        { type: 'scatter', data: pts.map(p => ({x: p[0], y: p[1]})), backgroundColor: '#1010ff', borderWidth: 0, pointStyle: 'rect', pointRadius: 1.35 }
      ]
    },
    options: {
      responsive: false, animation: false, devicePixelRatio: 1, events: [],
      layout: { padding: { top: 7, right: rightPad, left: 0, bottom: 0 } },
      plugins: {
        legend: { display: false }, tooltip: { enabled: false },
        title: { display: true, text: panelTitles[idx], fullSize: false, color: '#000',
          font: { family: FONT, size: 12.5, weight: 'bold' }, padding: { top: 3, bottom: 3 } },
        boxAndLetter: { letter: panelLetters[idx], noData: pts.length === 0 }
      },
      scales: {
        x: {
          type: 'logarithmic', min: 1e-4, max: 10,
          afterBuildTicks: s => { s.ticks = tickValues.map(v => ({ value: v })); },
          afterFit: s => { s.height = xAxisH; },
          ticks: { autoSkip: false, maxRotation: 0, padding: 4, color: '#222', font: { family: FONT, size: 10.5, weight: 'bold' }, callback: v => tickLabel(v) },
          grid: { color: gridColor, drawTicks: false, lineWidth: 1 },
          border: { display: false },
          title: { display: bottomRow, text: 'In-situ TChla (mg m⁻³)', color: '#000', font: { family: FONT, size: 12.5, weight: 'bold', style: 'italic' }, padding: { top: 0, bottom: 4 } }
        },
        y: {
          type: 'logarithmic', min: 1e-4, max: 10,
          afterBuildTicks: s => { s.ticks = tickValues.map(v => ({ value: v })); },
          afterFit: s => { s.width = yAxisW; },
          ticks: { autoSkip: false, padding: 3, color: '#222', font: { family: FONT, size: 10.5, weight: 'bold' }, callback: v => tickLabel(v) },
          grid: { color: gridColor, drawTicks: false, lineWidth: 1 },
          border: { display: false },
          title: { display: col === 0, text: 'Estimated TChla (mg m⁻³)', color: '#000', font: { family: FONT, size: 12.5, weight: 'bold', style: 'italic' }, padding: { top: 15, bottom: 0 } }
        }
      }
    },
    plugins: [boxPlugin]
  });
});
</script>
</body></html>
